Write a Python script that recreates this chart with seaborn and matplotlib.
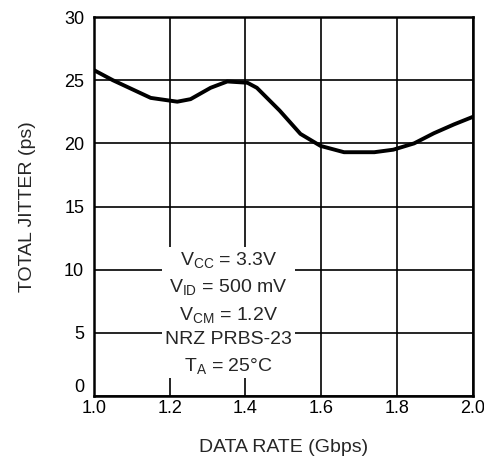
import matplotlib
matplotlib.use("Agg")
import matplotlib.pyplot as plt
import pandas as pd
import seaborn as sns

# values
data_rate = [1.0, 1.05, 1.1, 1.15, 1.22, 1.255, 1.308, 1.352, 1.405, 1.43,
             1.49, 1.545, 1.598, 1.66, 1.74, 1.79, 1.845, 1.897, 1.95, 2.0]
total_jitter = [25.8, 25.0, 24.3, 23.6, 23.3, 23.5, 24.4, 24.9, 24.8, 24.4,
                22.6, 20.75, 19.8, 19.3, 19.3, 19.5, 20.0, 20.8, 21.5, 22.1]
x_ticks = [1.0, 1.2, 1.4, 1.6, 1.8, 2.0]
y_ticks = [0, 5, 10, 15, 20, 25, 30]
conditions = [
    r"V$_{\mathrm{CC}}$ = 3.3V",
    r"V$_{\mathrm{ID}}$ = 500 mV",
    r"V$_{\mathrm{CM}}$ = 1.2V",
    "NRZ PRBS-23",
    r"T$_{\mathrm{A}}$ = 25°C",
]

sns.set_style("white")
plt.rcParams["font.family"] = ["Liberation Sans", "DejaVu Sans"]
plt.rcParams["mathtext.fontset"] = "custom"
plt.rcParams["mathtext.rm"] = "Liberation Sans"
plt.rcParams["mathtext.it"] = "Liberation Sans"

df = pd.DataFrame({"rate": data_rate, "jitter": total_jitter})

fig, ax = plt.subplots(figsize=(4.84, 4.61), dpi=100)
fig.subplots_adjust(left=0.194, right=0.977, top=0.963, bottom=0.141)

sns.lineplot(data=df, x="rate", y="jitter", ax=ax, color="black", linewidth=2.8, zorder=3)

ax.set_xlim(1.0, 2.0)
ax.set_ylim(0, 30)
ax.set_xticks(x_ticks)
ax.set_xticklabels([f"{t:.1f}" for t in x_ticks])
ax.set_yticks(y_ticks)
ax.grid(True, color="black", linewidth=1.2)
ax.tick_params(length=0, labelsize=13, colors="black")
ax.tick_params(axis="x", pad=3)
ax.tick_params(axis="y", pad=7)
for spine in ax.spines.values():
    spine.set_color("black")
    spine.set_linewidth(1.8)

# the "0" sits a little higher so it clears the "1.0" below it
ax.get_yticklabels()[0].set_verticalalignment("bottom")

ax.set_xlabel("DATA RATE (Gbps)", fontsize=14, labelpad=16)
ax.set_ylabel("TOTAL JITTER (ps)", fontsize=14, labelpad=20)

ax.text(1.355, 6.6, "\n".join(conditions), ha="center", va="center",
        fontsize=14, linespacing=1.5, zorder=4,
        bbox=dict(facecolor="white", edgecolor="none", pad=2))

fig.savefig("out.png", dpi=100)
